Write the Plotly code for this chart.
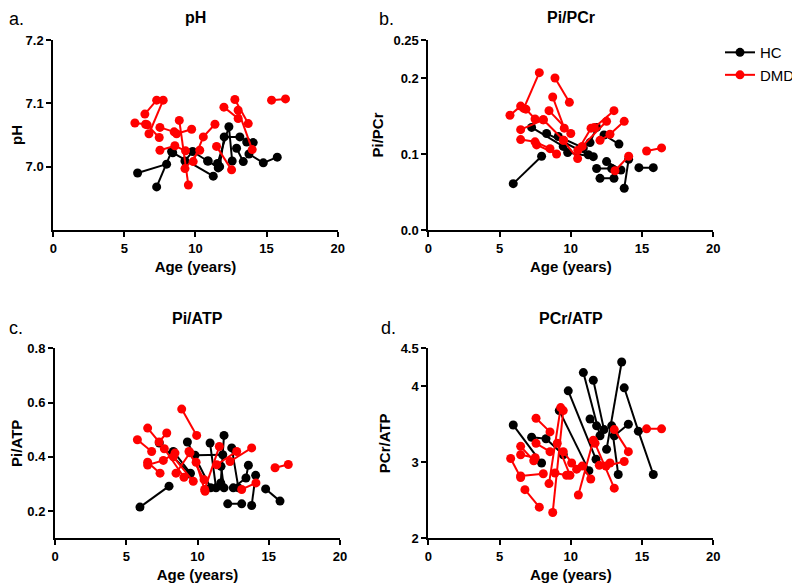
import plotly.graph_objects as go

# ---------------- data (age in years, value) : each inner list is one subject ----------------
# Panel a: pH
ph_hc_age = [[5.93, 7.97], [7.27, 8.32], [8.4, 11.25], [9.26, 9.8, 10.85], [11.55, 12.35, 12.58],
             [11.7, 12.02, 13.12], [12.89, 13.36], [13.6, 14.06], [13.76, 14.77, 15.75], [10.9, 11.6]]
ph_hc_val = [[6.990, 7.004], [6.968, 7.024], [7.022, 6.985], [7.009, 7.024, 7.009], [7.005, 7.063, 7.009],
             [7.000, 7.047, 7.047], [7.029, 7.008], [7.039, 7.038], [7.020, 7.006, 7.015], [7.009, 6.998]]
ph_dmd_age = [[5.74, 6.49], [6.44, 7.27], [6.73, 7.73], [7.5, 8.5], [7.5, 8.55, 9.3], [8.86, 9.5],
              [8.67, 9.73], [9.26, 10.3], [9.84, 10.55, 11.37], [11.48, 12.54], [12.0, 13.0],
              [12.77, 13.71], [13.0, 13.99], [15.35, 16.33], [6.6, 7.45]]
ph_dmd_val = [[7.069, 7.067], [7.083, 7.105], [7.052, 7.105], [7.062, 7.055], [7.026, 7.033, 7.025],
              [7.073, 6.971], [7.052, 7.059], [6.997, 7.026], [7.008, 7.047, 7.067], [7.032, 6.995],
              [7.094, 7.076], [7.106, 7.068], [7.089, 7.027], [7.105, 7.107], [7.066, 7.046]]

# Panel b: Pi/PCr
pipcr_hc_age = [[5.96, 7.95], [7.25, 9.47], [8.3, 11.23], [9.12, 10.88], [9.78, 11.58], [11.35, 11.81],
                [12.33, 13.38], [11.81, 12.87], [12.05, 13.03], [12.51, 13.52], [13.75, 14.06], [14.78, 15.79]]
pipcr_hc_val = [[0.061, 0.097], [0.135, 0.110], [0.127, 0.099], [0.123, 0.108], [0.102, 0.0965], [0.115, 0.135],
                [0.125, 0.113], [0.081, 0.081], [0.068, 0.068], [0.090, 0.079], [0.055, 0.093], [0.082, 0.082]]
pipcr_dmd_age = [[5.73, 6.48], [6.7, 7.79], [6.85, 7.49], [8.89, 9.9], [8.73, 9.54], [8.47, 10.0],
                 [6.48, 8.07], [6.48, 7.49, 8.54], [7.6, 9.0], [8.07, 9.5], [9.47, 10.48], [10.5, 11.42],
                 [10.8, 12.51], [11.65, 13.03], [12.05, 12.75, 13.75], [13.1, 14.06], [15.32, 16.37]]
pipcr_dmd_val = [[0.151, 0.163], [0.160, 0.207], [0.159, 0.146], [0.200, 0.168], [0.175, 0.134], [0.157, 0.127],
                 [0.132, 0.145], [0.119, 0.116, 0.107], [0.112, 0.100], [0.145, 0.118], [0.118, 0.094], [0.105, 0.134],
                 [0.110, 0.143], [0.135, 0.157], [0.118, 0.126, 0.143], [0.078, 0.097], [0.104, 0.108]]

# Panel c: Pi/ATP
piatp_hc_age = [[5.96, 8.0], [7.32, 9.47], [8.3, 9.5], [9.29, 10.92], [9.82, 11.77], [10.88, 11.3],
                [11.63, 11.86], [11.65, 11.86], [12.4, 12.87], [12.51, 13.4, 13.57], [12.12, 13.1],
                [13.8, 14.08], [14.78, 15.79]]
piatp_hc_val = [[0.215, 0.292], [0.451, 0.337], [0.420, 0.340], [0.455, 0.286], [0.406, 0.408], [0.451, 0.286],
                [0.304, 0.479], [0.365, 0.286], [0.433, 0.286], [0.286, 0.322, 0.369], [0.227, 0.227],
                [0.221, 0.332], [0.282, 0.237]]
piatp_dmd_age = [[5.78, 6.78], [6.5, 7.3, 7.84], [6.5, 7.37], [6.5, 7.6, 8.42], [7.67, 9.05], [8.49, 9.47],
                 [8.89, 9.94], [8.3, 9.7], [9.4, 10.46], [9.9, 10.53], [10.5, 11.53], [11.35, 12.75],
                 [12.28, 13.8], [13.1, 14.1], [15.44, 16.37]]
piatp_dmd_val = [[0.463, 0.420], [0.506, 0.455, 0.488], [0.380, 0.340], [0.370, 0.387, 0.414], [0.430, 0.325],
                 [0.340, 0.415], [0.576, 0.479], [0.400, 0.310], [0.420, 0.316], [0.380, 0.273], [0.280, 0.438],
                 [0.371, 0.420], [0.383, 0.433], [0.280, 0.304], [0.360, 0.372]]

# Panel d: PCr/ATP
pcratp_hc_age = [[5.96, 7.95], [7.25, 8.26, 9.47], [9.19, 11.27], [9.82, 11.77], [10.88, 12.05],
                 [11.58, 12.33], [12.51, 13.57], [13.75, 14.74, 15.79], [11.35, 11.81], [12.87, 13.33],
                 [13.05, 14.04]]
pcratp_hc_val = [[3.49, 2.99], [3.33, 3.31, 3.10], [3.68, 2.89], [3.94, 3.04], [4.18, 3.35],
                 [4.08, 3.43], [3.17, 4.32], [3.98, 3.41, 2.84], [3.57, 3.48], [3.48, 2.84],
                 [3.35, 3.50]]
pcratp_dmd_age = [[5.78, 6.48], [6.48, 8.07], [6.48, 7.4], [6.48, 7.5], [6.78, 7.79], [7.56, 8.54],
                  [7.56, 8.54], [8.73, 9.47], [8.47, 9.29], [9.05, 9.94], [8.89, 9.7], [9.47, 10.06, 10.41],
                  [10.53, 11.58], [10.8, 11.4], [11.7, 13.05], [12.0, 12.75], [13.05, 14.04], [12.47, 13.75],
                  [15.32, 16.37]]
pcratp_dmd_val = [[3.05, 2.80], [2.82, 2.85], [3.21, 3.02], [3.10, 3.06], [2.64, 2.41], [3.58, 3.40],
                  [3.25, 3.14], [2.34, 3.68], [2.72, 3.72], [3.25, 2.83], [2.86, 2.83], [3.14, 2.99, 2.91],
                  [2.57, 3.29], [2.95, 2.78], [3.25, 2.66], [2.96, 2.99], [3.43, 3.14], [2.95, 3.01],
                  [3.44, 3.44]]

panel_titles = ["pH", "Pi/PCr", "Pi/ATP", "PCr/ATP"]
panel_letters = ["a.", "b.", "c.", "d."]
x_ticks = [0, 5, 10, 15, 20]
y_ranges = [[6.9, 7.2], [0.0, 0.25], [0.1, 0.8], [2.0, 4.5]]
y_tickvals = [[7.0, 7.1, 7.2], [0.0, 0.1, 0.2, 0.25], [0.2, 0.4, 0.6, 0.8], [2, 3, 4, 4.5]]
y_ticktext = [["7.0", "7.1", "7.2"], ["0.0", "0.1", "0.2", "0.25"], ["0.2", "0.4", "0.6", "0.8"],
              ["2", "3", "4", "4.5"]]

HC_COLOR = "#000000"
DMD_COLOR = "#ff0000"
FONT = "Liberation Sans, Arial, sans-serif"


def flatten(ages, vals):
    xs, ys = [], []
    for a, v in zip(ages, vals):
        xs += list(a) + [None]
        ys += list(v) + [None]
    return xs, ys


panels = [
    (ph_hc_age, ph_hc_val, ph_dmd_age, ph_dmd_val),
    (pipcr_hc_age, pipcr_hc_val, pipcr_dmd_age, pipcr_dmd_val),
    (piatp_hc_age, piatp_hc_val, piatp_dmd_age, piatp_dmd_val),
    (pcratp_hc_age, pcratp_hc_val, pcratp_dmd_age, pcratp_dmd_val),
]

x_domains = [[0.0566, 0.4121], [0.5254, 0.8816], [0.0588, 0.4150], [0.5254, 0.8816]]
y_domains = [[0.6205, 0.9453], [0.6205, 0.9453], [0.0935, 0.4183], [0.0935, 0.4183]]

fig = go.Figure()

for i, (ha, hv, da, dv) in enumerate(panels):
    ax = "" if i == 0 else str(i + 1)
    for ages, vals, color, name in [(ha, hv, HC_COLOR, "HC"), (da, dv, DMD_COLOR, "DMD")]:
        xs, ys = flatten(ages, vals)
        fig.add_trace(go.Scatter(
            x=xs, y=ys, mode="lines+markers", name=name,
            line=dict(color=color, width=2),
            marker=dict(color=color, size=9, symbol="circle"),
            connectgaps=False, showlegend=(i == 1), legendgroup=name,
            xaxis="x" + ax, yaxis="y" + ax, cliponaxis=False,
        ))

axis_common = dict(
    showline=True, linecolor="black", linewidth=2, ticks="outside", ticklen=5, tickwidth=2,
    tickcolor="black", showgrid=False, zeroline=False, automargin=False,
    tickfont=dict(family=FONT, size=13, color="black", weight="bold"),
)

layout = dict(
    width=800, height=585, margin=dict(l=0, r=0, t=0, b=0, autoexpand=False),
    paper_bgcolor="white", plot_bgcolor="white",
    font=dict(family=FONT, color="black"),
    legend=dict(x=0.89, y=0.952, xanchor="left", yanchor="top", bgcolor="rgba(0,0,0,0)",
                font=dict(family=FONT, size=15, color="black"), tracegroupgap=0),
)

annotations = []
title_y = [1.0, 1.0, 0.4684, 0.4684]
title_anchor = ["top", "top", "middle", "middle"]
for i in range(4):
    ax = "" if i == 0 else str(i + 1)
    layout["xaxis" + ax] = dict(
        axis_common, domain=x_domains[i], range=[0, 20], tickvals=x_ticks,
        anchor="y" + ax,
        title=dict(text="Age (years)", font=dict(family=FONT, size=15, color="black", weight="bold"),
                   standoff=7),
    )
    layout["yaxis" + ax] = dict(
        axis_common, domain=y_domains[i], range=y_ranges[i], tickvals=y_tickvals[i],
        ticktext=y_ticktext[i], anchor="x" + ax,
        title=dict(text=panel_titles[i], font=dict(family=FONT, size=15, color="black", weight="bold"),
                   standoff=6),
    )
    xd = x_domains[i]
    annotations.append(dict(
        text="<b>" + panel_titles[i] + "</b>", xref="paper", yref="paper",
        x=(xd[0] + xd[1]) / 2, y=title_y[i], xanchor="center", yanchor=title_anchor[i],
        showarrow=False, font=dict(family=FONT, size=16, color="black"), borderpad=0,
    ))
letter_pos = [(0.0, 1.0, "top"), (0.4625, 1.0, "top"), (0.0, 0.453, "middle"), (0.465, 0.453, "middle")]
for i in range(4):
    annotations.append(dict(
        text=panel_letters[i], xref="paper", yref="paper", x=letter_pos[i][0], y=letter_pos[i][1],
        xanchor="left", yanchor=letter_pos[i][2], showarrow=False, borderpad=0,
        font=dict(family=FONT, size=18, color="black"),
    ))
layout["annotations"] = annotations

fig.update_layout(**layout)
fig.write_html("out.html")
